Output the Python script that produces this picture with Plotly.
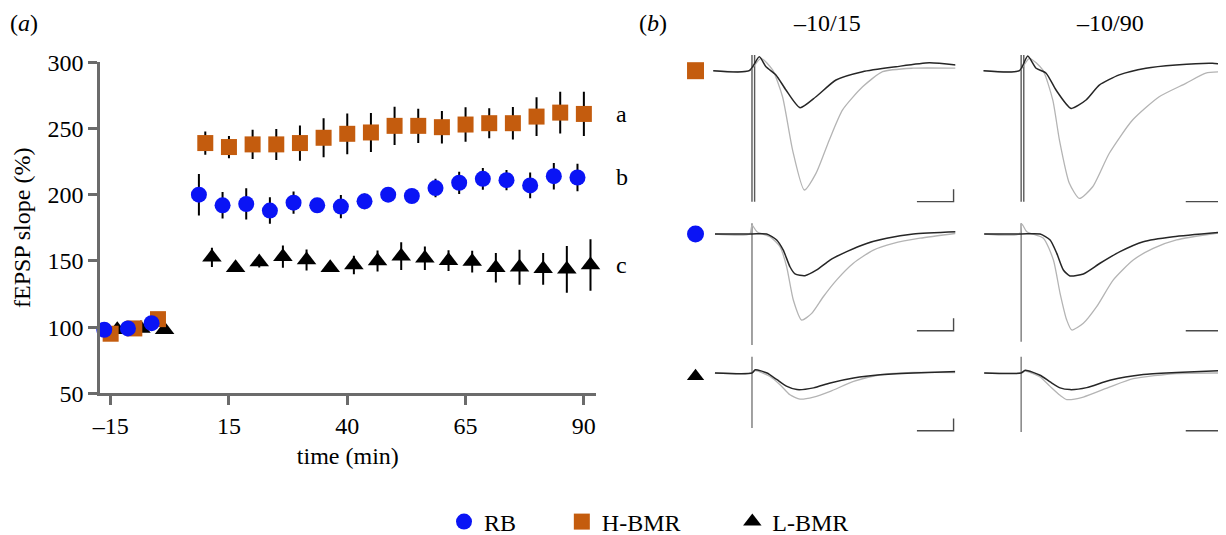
import plotly.graph_objects as go

# The page body adds an 8 px margin; the figure is sized so that it fills the window exactly.
PAGE_OFF = 8
W, H = 1226 - PAGE_OFF, 535 - PAGE_OFF
FONT = "Liberation Serif"
FS = 24

# ---------------- panel (a) data ----------------
BASE_T = [-10, -5, 0]
POST_T = [10, 15, 20, 25, 30, 35, 40, 45, 50, 55, 60, 65, 70, 75, 80, 85, 90]
X_TICKVALS = [-10, 15, 40, 65, 90]
X_TICKTEXT = ["\u201315", "15", "40", "65", "90"]
Y_TICKVALS = [50, 100, 150, 200, 250, 300]

RB_BASE = [98, 99, 103]
RB_BASE_ERR = [2, 2, 2]
RB_POST = [200, 192, 193, 188, 194, 192, 191, 195, 200, 199, 205, 209, 212, 211, 207, 214, 213]
RB_POST_ERR = [15.7, 10, 11.8, 10, 8.4, 5, 8.8, 6, 5, 5, 7, 8.4, 8.2, 7.6, 9.7, 10, 10.3]

HB_BASE = [95, 99, 106]
HB_BASE_ERR = [2, 2, 2]
HB_POST = [239, 236, 238, 238, 239, 243, 246, 247, 252, 252, 251, 253, 254, 254, 259, 262, 261]
HB_POST_ERR = [8.8, 8.4, 11, 11.7, 13.3, 14.7, 15.4, 14.7, 14.5, 13, 12.3, 13.1, 11.3, 12.3, 14.6, 15.7, 16.7]

LB_BASE = [98, 99, 98]
LB_BASE_ERR = [2, 2, 2]
LB_POST = [152.7, 144.9, 149.1, 153.2, 150.7, 144.9, 146.9, 149.9, 153.6, 152, 150.2, 149.5, 144.8, 145.2, 144, 143.6, 146.9]
LB_POST_ERR = [7.3, 3, 4, 8.4, 7.9, 3, 6.9, 7.9, 10.4, 8.8, 7.9, 8.2, 11.1, 13.2, 12, 17.6, 19.5]

GROUP_LETTERS = {"H-BMR": "a", "RB": "b", "L-BMR": "c"}

# ---------------- panel (b) data (time in ms after stimulus, amplitude in mV) ----------------
# row 1: H-BMR, row 2: RB, row 3: L-BMR ; columns: -10/15 and -10/90
R1L_BLK_T = [-5.28, -0.37, 1.0, 1.91, 3.27, 4.64, 6.55, 8.73, 11.46, 15.09, 19.65, 24.19, 27.83]
R1L_BLK_V = [0, 0, 0.56, 0.16, -0.17, -0.78, -1.49, -1.05, -0.375, -0.04, 0.16, 0.32, 0.23]
R1L_GRY_T = [-5.28, -0.37, 1.23, 2.81, 4.17, 5.54, 7.14, 8.73, 10.55, 12.36, 15.09, 17.82, 21.91, 27.83]
R1L_GRY_V = [0, 0, 0.5, 0.03, -1.05, -3.2, -4.81, -4.14, -2.79, -1.58, -0.65, -0.04, 0.1, 0.1]

R1R_BLK_T = [-5.14, -0.23, 0.9, 2.05, 3.41, 4.77, 6.82, 8.87, 10.68, 13.41, 17.05, 21.15, 26.14, 27.97]
R1R_BLK_V = [0, 0, 0.59, 0.1, -0.1, -0.78, -1.52, -1.18, -0.58, -0.17, 0.1, 0.23, 0.3, 0.23]
R1R_GRY_T = [-5.14, -0.23, 1.13, 2.95, 4.32, 5.23, 6.59, 7.96, 9.78, 12.05, 15.23, 18.87, 22.51, 25.24, 27.97]
R1R_GRY_V = [0, 0, 0.5, 0.03, -1.18, -2.79, -4.54, -5.15, -4.68, -3.33, -1.99, -1.05, -0.51, -0.1, -0.04]

R2L_BLK_T = [-5.05, 0, 2.0, 3.37, 4.27, 5.18, 5.87, 7.23, 8.83, 10.64, 12.92, 15.65, 18.38, 22.01, 27.93]
R2L_BLK_V = [0, 0, 0, -0.24, -0.65, -1.32, -1.61, -1.68, -1.45, -1.05, -0.71, -0.38, -0.17, 0, 0.09]
R2L_GRY_T = [-5.05, -0.3, 0, 0.68, 2.46, 3.82, 4.73, 5.64, 6.78, 8.15, 9.73, 11.56, 13.83, 16.56, 19.28, 22.92, 27.93]
R2L_GRY_V = [0, 0, 0.36, 0.09, -0.11, -0.51, -1.32, -2.66, -3.47, -3.2, -2.53, -1.85, -1.18, -0.65, -0.38, -0.17, 0.03]

R2R_BLK_T = [-5.05, 0, 2.59, 3.96, 4.87, 5.77, 6.68, 8.5, 10.78, 13.51, 16.69, 20.78, 28.07]
R2R_BLK_V = [0, 0, 0, -0.24, -0.78, -1.45, -1.69, -1.61, -1.18, -0.71, -0.31, -0.11, 0.09]
R2R_GRY_T = [-5.05, -0.2, 0.1, 0.78, 3.04, 4.41, 5.32, 6.23, 6.92, 8.5, 10.32, 12.6, 15.32, 18.05, 21.24, 28.07]
R2R_GRY_V = [0, 0, 0.4, 0.09, -0.17, -1.05, -2.39, -3.47, -3.87, -3.6, -2.93, -1.85, -1.05, -0.58, -0.24, 0.09]

R3L_BLK_T = [-5.05, 0, 0.45, 2.05, 3.41, 4.77, 6.14, 8.4, 10.68, 13.86, 17.5, 22.04, 27.96]
R3L_BLK_V = [0, 0, 0.13, 0, -0.27, -0.54, -0.67, -0.6, -0.4, -0.2, -0.07, 0, 0.06]
R3L_GRY_T = [-5.05, 0, 0.45, 2.46, 3.82, 5.18, 6.55, 8.4, 10.68, 13.86, 17.5, 22.04, 27.96]
R3L_GRY_V = [0, 0, 0.1, -0.14, -0.47, -0.88, -1.05, -0.97, -0.74, -0.34, -0.07, 0.02, 0.02]

R3R_BLK_T = [-5.05, 0, 0.55, 2.59, 3.96, 5.32, 6.68, 8.96, 12.14, 16.69, 21.24, 28.07]
R3R_BLK_V = [0, 0, 0.11, -0.09, -0.36, -0.6, -0.67, -0.59, -0.29, -0.06, 0.02, 0.11]
R3R_GRY_T = [-5.05, 0, 0.55, 2.59, 3.96, 5.32, 6.23, 8.5, 12.14, 15.32, 21.24, 28.07]
R3R_GRY_V = [0, 0, 0.08, -0.16, -0.54, -0.9, -1.07, -0.97, -0.56, -0.23, -0.02, 0]

STIM_TOP = [0.63, 0.43, 0.66]
STIM_BOTTOM_L = [-5.28, -4.48, -2.22]
STIM_BOTTOM_R = [-5.28, -4.34, -2.38]
SCALE_T = [22.5, 27.5]          # 5 ms
SCALE_V = 0.5                    # 0.5 mV
SCALE_BASE = [-5.28, -3.9, -2.33]
COL_TITLES = ["\u201310/15", "\u201310/90"]

# ---------------- styles ----------------
C_RB = "#0a14f5"
C_HB = "#c45c0e"
C_LB = "#000000"
AX_COL = "#6b6b6b"


def px_x(p):
    return (p - PAGE_OFF) / W


def px_y(p):
    return 1 - (p - PAGE_OFF) / H


fig = go.Figure()

series = [
    ("L-BMR", LB_BASE + LB_POST, LB_BASE_ERR + LB_POST_ERR, C_LB, "triangle-up", 1.4, 3, 17),
    ("H-BMR", HB_BASE + HB_POST, HB_BASE_ERR + HB_POST_ERR, C_HB, "square", 0.0, 2, 16),
    ("RB", RB_BASE + RB_POST, RB_BASE_ERR + RB_POST_ERR, C_RB, "circle", -1.35, 1, 16),
]
legend_pad = {"RB": "\u00a0" * 6 + "\u2009", "H-BMR": "\u00a0" * 7 + "\u2009", "L-BMR": ""}
all_t = BASE_T + POST_T
for name, vals, errs, col, sym, off, rank, size in series:
    fig.add_trace(go.Scatter(
        x=[t + off for t in all_t], y=vals, mode="markers",
        name=name + legend_pad[name], legendrank=rank,
        marker=dict(symbol=sym, size=size, color=col, line=dict(width=0)),
        error_y=dict(type="data", array=errs, visible=True, color="black", thickness=2, width=0),
        xaxis="x", yaxis="y", cliponaxis=False,
    ))
    fig.add_annotation(x=all_t[-1], y=vals[-1], xref="x", yref="y", text=GROUP_LETTERS[name],
                       xshift=38, showarrow=False, xanchor="center", yanchor="middle",
                       font=dict(family=FONT, size=FS, color="black"))

# ---------------- panel (b) ----------------
rows = [
    ("y2", (R1L_BLK_T, R1L_BLK_V, R1L_GRY_T, R1L_GRY_V), (R1R_BLK_T, R1R_BLK_V, R1R_GRY_T, R1R_GRY_V)),
    ("y3", (R2L_BLK_T, R2L_BLK_V, R2L_GRY_T, R2L_GRY_V), (R2R_BLK_T, R2R_BLK_V, R2R_GRY_T, R2R_GRY_V)),
    ("y4", (R3L_BLK_T, R3L_BLK_V, R3L_GRY_T, R3L_GRY_V), (R3R_BLK_T, R3R_BLK_V, R3R_GRY_T, R3R_GRY_V)),
]
row_markers = [("square", C_HB, 0), ("circle", C_RB, 0), ("triangle-up", C_LB, -0.13)]
for i, (ya, left, right) in enumerate(rows):
    for xa, tr, sb in (("x2", left, STIM_BOTTOM_L), ("x3", right, STIM_BOTTOM_R)):
        bt, bv, gt, gv = tr
        # stimulus artefact
        stim_x = [0, 0.36] if i == 0 else [0]
        for sx in stim_x:
            fig.add_trace(go.Scatter(x=[sx, sx], y=[STIM_TOP[i], sb[i]], mode="lines",
                                     line=dict(color="#5a5a5a" if i == 0 else "#7a7a7a", width=1.4),
                                     xaxis=xa, yaxis=ya, showlegend=False, hoverinfo="skip"))
        fig.add_trace(go.Scatter(x=gt, y=gv, mode="lines",
                                 line=dict(color="#b4b4b4", width=1.3, shape="spline", smoothing=0.6),
                                 xaxis=xa, yaxis=ya, showlegend=False, hoverinfo="skip"))
        fig.add_trace(go.Scatter(x=bt, y=bv, mode="lines",
                                 line=dict(color="#262626", width=1.5, shape="spline", smoothing=0.6),
                                 xaxis=xa, yaxis=ya, showlegend=False, hoverinfo="skip"))
        # scale bar
        fig.add_trace(go.Scatter(x=[SCALE_T[0], SCALE_T[1], SCALE_T[1]],
                                 y=[SCALE_BASE[i], SCALE_BASE[i], SCALE_BASE[i] + SCALE_V], mode="lines",
                                 line=dict(color="#4a4a4a", width=1.4),
                                 xaxis=xa, yaxis=ya, showlegend=False, hoverinfo="skip"))
    sym, col, yv = row_markers[i]
    fig.add_trace(go.Scatter(x=[-7.7], y=[yv], mode="markers",
                             marker=dict(symbol=sym, size=17 if sym != "triangle-up" else 15, color=col),
                             xaxis="x2", yaxis=ya, showlegend=False, hoverinfo="skip", cliponaxis=False))

# ---------------- layout ----------------
tick_font = dict(family=FONT, size=FS, color="black")
fig.update_layout(
    width=W, height=H, margin=dict(l=0, r=0, t=0, b=0, autoexpand=False),
    paper_bgcolor="white", plot_bgcolor="white",
    font=dict(family=FONT, size=FS, color="black"),
    showlegend=True,
    legend=dict(orientation="h", x=px_x(444), xanchor="left", y=px_y(522), yanchor="middle",
                font=dict(family=FONT, size=FS, color="black"), bgcolor="rgba(0,0,0,0)",
                traceorder="normal", itemsizing="trace"),
    xaxis=dict(domain=[px_x(100), px_x(595.7)], range=[-12.25, 92.5], anchor="y", automargin=False,
               tickvals=X_TICKVALS, ticktext=X_TICKTEXT, tickfont=tick_font,
               showline=True, linecolor=AX_COL, linewidth=2.5, ticks="outside", ticklen=9,
               tickwidth=2.5, tickcolor=AX_COL, showgrid=False, zeroline=False,
               title=dict(text="time (min)", font=tick_font, standoff=10)),
    yaxis=dict(domain=[px_y(393.3), px_y(62.3)], range=[50, 300], anchor="x", automargin=False,
               tickvals=Y_TICKVALS, tickfont=tick_font,
               showline=True, linecolor=AX_COL, linewidth=2.5, ticks="outside", ticklen=9,
               tickwidth=2.5, tickcolor=AX_COL, showgrid=False, zeroline=False,
               title=dict(text="fEPSP slope (%)", font=tick_font, standoff=11)),
    xaxis2=dict(domain=[px_x(686), px_x(958.7)], range=[-9, 28.2], visible=False, anchor="y2"),
    xaxis3=dict(domain=[px_x(955.3), px_x(1226)], range=[-9, 28.0], visible=False, anchor="y2"),
    yaxis2=dict(domain=[px_y(219.5), px_y(45.9)], range=[-6, 1], visible=False, anchor="x2"),
    yaxis3=dict(domain=[px_y(382.8), px_y(209.2)], range=[-6, 1], visible=False, anchor="x2"),
    yaxis4=dict(domain=[px_y(521.8), px_y(348.2)], range=[-6, 1], visible=False, anchor="x2"),
)

head_font = dict(family=FONT, size=FS, color="black")
fig.add_annotation(x=px_x(23.7), y=px_y(22.7), xref="paper", yref="paper", text="(<i>a</i>)",
                   showarrow=False, xanchor="center", yanchor="middle", font=head_font)
fig.add_annotation(x=px_x(652.5), y=px_y(22.7), xref="paper", yref="paper", text="(<i>b</i>)",
                   showarrow=False, xanchor="center", yanchor="middle", font=head_font)
fig.add_annotation(x=10.2, y=px_y(22.7), xref="x2", yref="paper", text=COL_TITLES[0],
                   showarrow=False, xanchor="center", yanchor="middle", font=head_font)
fig.add_annotation(x=12.1, y=px_y(22.7), xref="x3", yref="paper", text=COL_TITLES[1],
                   showarrow=False, xanchor="center", yanchor="middle", font=head_font)

fig.write_html("out.html")
